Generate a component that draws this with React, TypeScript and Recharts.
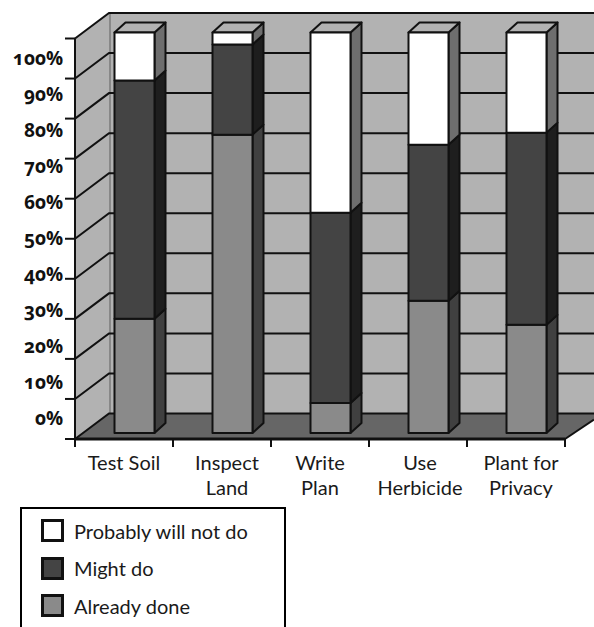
import React from "react";
import { BarChart, Bar, XAxis, YAxis, Legend, ReferenceArea, ReferenceLine } from "recharts";

const categories = ["Test Soil", "Inspect Land", "Write Plan", "Use Herbicide", "Plant for Privacy"];
const categoryLines = [["Test Soil"], ["Inspect", "Land"], ["Write", "Plan"], ["Use", "Herbicide"], ["Plant for", "Privacy"]];
const alreadyDone = [28.5, 74.5, 7.5, 33, 27];
const mightDo = [59.5, 22.5, 47.5, 39, 48];
const probablyNot = [12, 3, 45, 28, 25];
const percentTicks = [0, 10, 20, 30, 40, 50, 60, 70, 80, 90, 100];

const data = categories.map((name, i) => ({
  name,
  alreadyDone: alreadyDone[i],
  mightDo: mightDo[i],
  probablyNot: probablyNot[i],
}));

const FONT = "Lato, sans-serif";
const INK = "#111";
const WALL = "#b2b2b2";
const FLOOR = "#666";
const WALL_DX = 34;
const WALL_DY = 25.5;
const BAR_DX = 11;
const BAR_DY = 10;
const BAR_SHIFT_X = 10.5;
const BAR_SHIFT_Y = -6;
const CHART_W = 594;
const CHART_H = 627;
const PLOT_W = 490;
const SLOT = PLOT_W / categories.length;
const LABEL_NUDGE = [0, 5, 0, 2, 5];

// floor and walls of the 3D box, hung off the plot rectangle
const Box = ({ x, y, width, height }: any) => {
  const bottom = y + height;
  const right = x + width;
  const backX = x + WALL_DX;
  const backTop = y - WALL_DY;
  const backBottom = bottom - WALL_DY;
  return (
    <g>
      <polygon points={`${backX},${backTop} ${CHART_W},${backTop} ${CHART_W},${backBottom} ${backX},${backBottom}`} fill={WALL} />
      <polygon points={`${x},${y} ${backX},${backTop} ${backX},${backBottom} ${x},${bottom}`} fill={WALL} />
      <polygon
        points={`${x},${bottom} ${backX},${backBottom} ${CHART_W},${backBottom} ${CHART_W},${backBottom + 6} ${right},${bottom}`}
        fill={FLOOR}
      />
      <line x1={backX + 1} y1={backTop} x2={backX + 1} y2={backBottom} stroke="#888" strokeWidth={2} />
      <line x1={right} y1={bottom} x2={CHART_W} y2={backBottom + 6} stroke={INK} strokeWidth={2} />
    </g>
  );
};

// one grid line runs across the side wall and along the back wall
const WallLine = ({ x1, y1 }: any) => (
  <polyline
    points={`${x1},${y1} ${x1 + WALL_DX},${y1 - WALL_DY} ${CHART_W},${y1 - WALL_DY}`}
    fill="none"
    stroke={INK}
    strokeWidth={2}
  />
);

const makeBlock = (side: string, capped: boolean) => (props: any) => {
  const { x, y, width, height, fill } = props;
  const left = x + BAR_SHIFT_X;
  const top = y + BAR_SHIFT_Y;
  const right = left + width;
  const bottom = top + height;
  return (
    <g stroke={INK} strokeWidth={2} strokeLinejoin="round">
      <polygon
        points={`${right},${top} ${right + BAR_DX},${top - BAR_DY} ${right + BAR_DX},${bottom - BAR_DY} ${right},${bottom}`}
        fill={side}
      />
      {capped && (
        <polygon
          points={`${left},${top} ${left + BAR_DX},${top - BAR_DY} ${right + BAR_DX},${top - BAR_DY} ${right},${top}`}
          fill={WALL}
        />
      )}
      <rect x={left} y={top} width={width} height={height} fill={fill} />
    </g>
  );
};

// labels keep their own tighter spacing, so they drift away from the tick marks
const PercentTick = ({ x, y, payload }: any) => (
  <text
    x={x}
    y={58 + (y - 38.5) * 0.899}
    textAnchor="end"
    dominantBaseline="central"
    fontFamily="'Open Sans', sans-serif"
    fontWeight={700}
    fontSize={19}
    fill={INK}
    style={{ fontVariantNumeric: "oldstyle-nums" }}
  >
    {payload.value}%
  </text>
);

const CategoryTick = ({ x, y, index }: any) => {
  const left = x - SLOT / 2;
  return (
    <g>
      <line x1={left} y1={y - 8} x2={left} y2={y} stroke={INK} strokeWidth={2} />
      {index === categories.length - 1 && <line x1={left + SLOT} y1={y - 8} x2={left + SLOT} y2={y} stroke={INK} strokeWidth={2} />}
      <text textAnchor="middle" fontFamily={FONT} fontSize={20} fill="#1a1a1a">
        {categoryLines[index].map((line, i) => (
          <tspan key={line} x={x + LABEL_NUDGE[index]} y={y + 23 + i * 25}>
            {line}
          </tspan>
        ))}
      </text>
    </g>
  );
};

const LegendBox = ({ payload }: any) => (
  <div
    style={{
      boxSizing: "border-box",
      width: 266,
      height: 130,
      border: "2px solid #000",
      padding: "3px 0 0 19px",
      fontFamily: FONT,
      fontSize: 20,
      color: "#1a1a1a",
    }}
  >
    {[...(payload ?? [])].reverse().map((entry: any) => (
      <div key={entry.value} style={{ display: "flex", alignItems: "center", height: 37.5 }}>
        <span
          style={{
            boxSizing: "border-box",
            width: 23,
            height: 23,
            border: "3px solid #111",
            background: entry.color,
            marginRight: 10,
          }}
        />
        {entry.value}
      </div>
    ))}
  </div>
);

export default function App() {
  return (
    <div style={{ position: "absolute", left: 0, top: 0, width: CHART_W, height: CHART_H, overflow: "hidden" }}>
      <BarChart
        width={CHART_W}
        height={CHART_H}
        data={data}
        barSize={40}
        margin={{ top: 38.5, right: 29, left: 10, bottom: 128 }}
      >
        <ReferenceArea y1={0} y2={100} shape={Box} fill="none" stroke="none" />
        {percentTicks.map((t) => (
          <ReferenceLine key={t} y={t} shape={WallLine} zIndex={150} />
        ))}
        <XAxis
          dataKey="name"
          height={60}
          interval={0}
          tick={CategoryTick}
          tickLine={false}
          axisLine={{ stroke: INK, strokeWidth: 3 }}
        />
        <YAxis
          width={65}
          domain={[0, 100]}
          ticks={percentTicks}
          tick={PercentTick}
          tickSize={10}
          tickLine={{ stroke: INK, strokeWidth: 2 }}
          axisLine={{ stroke: INK, strokeWidth: 2 }}
        />
        <Legend
          layout="vertical"
          align="center"
          verticalAlign="middle"
          content={LegendBox}
          wrapperStyle={{ left: 20, top: 507, width: 266, height: 130 }}
        />
        <Bar dataKey="alreadyDone" name="Already done" stackId="a" fill="#8a8a8a" shape={makeBlock("#404040", false)} isAnimationActive={false} />
        <Bar dataKey="mightDo" name="Might do" stackId="a" fill="#444" shape={makeBlock("#1e1e1e", false)} isAnimationActive={false} />
        <Bar dataKey="probablyNot" name="Probably will not do" stackId="a" fill="#fff" shape={makeBlock("#6e6e6e", true)} isAnimationActive={false} />
      </BarChart>
    </div>
  );
}
